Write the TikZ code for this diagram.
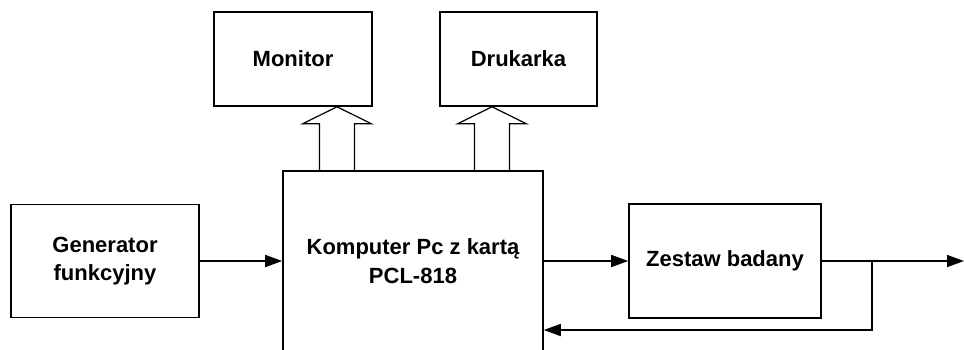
\documentclass[tikz,border=0pt]{standalone}
\usepackage{fontspec}
\setmainfont{Liberation Sans}
\usetikzlibrary{arrows.meta,calc}

\begin{document}
\begin{tikzpicture}[x=1pt, y=-1pt,
    blok/.style={draw, line width=1.6pt, inner sep=0pt, align=center,
        font=\fontsize{22}{28.5}\selectfont\bfseries},
    strz/.style={line width=1.6pt, -{Triangle[length=17pt, width=12pt]}},
    szyna/.style={line width=1.2pt, line join=miter}]
    \useasboundingbox (0,0) rectangle (964,349);
    \node[blok, minimum width=188, minimum height=113] (gen) at (105,261) {Generator\\funkcyjny};
    \node[blok, minimum width=260, minimum height=180] (pc) at (413,261) {Komputer Pc z kartą\\PCL-818};
    \node[blok, minimum width=158, minimum height=94] (mon) at (293,59) {Monitor};
    \node[blok, minimum width=157, minimum height=94] (druk) at (518.5,59) {Drukarka};
    \node[blok, minimum width=192, minimum height=114] (zes) at (725,261) {Zestaw badany};
    \coordinate (wyj) at (964,261);
    \coordinate (rozg) at (872,261);
    \coordinate (pow) at (872,330);
    \draw[strz] (gen) -- (pc);
    \draw[strz] (pc) -- (zes);
    \draw[strz] (zes) -- (wyj);
    \draw[strz] (rozg) -- (pow) -- (pow -| pc.east);
    \foreach \cel/\dx in {mon/44, druk/-26.5} {
        \coordinate (g) at ($(\cel.south)+(\dx,0)$);
        \draw[szyna] ($(g)+(17.5,65)$) -- ++(0,-48) -- ++(17,0) -- (g)
            -- ++(-34.5,17) -- ++(17,0) -- ++(0,48);
    }
\end{tikzpicture}
\end{document}
